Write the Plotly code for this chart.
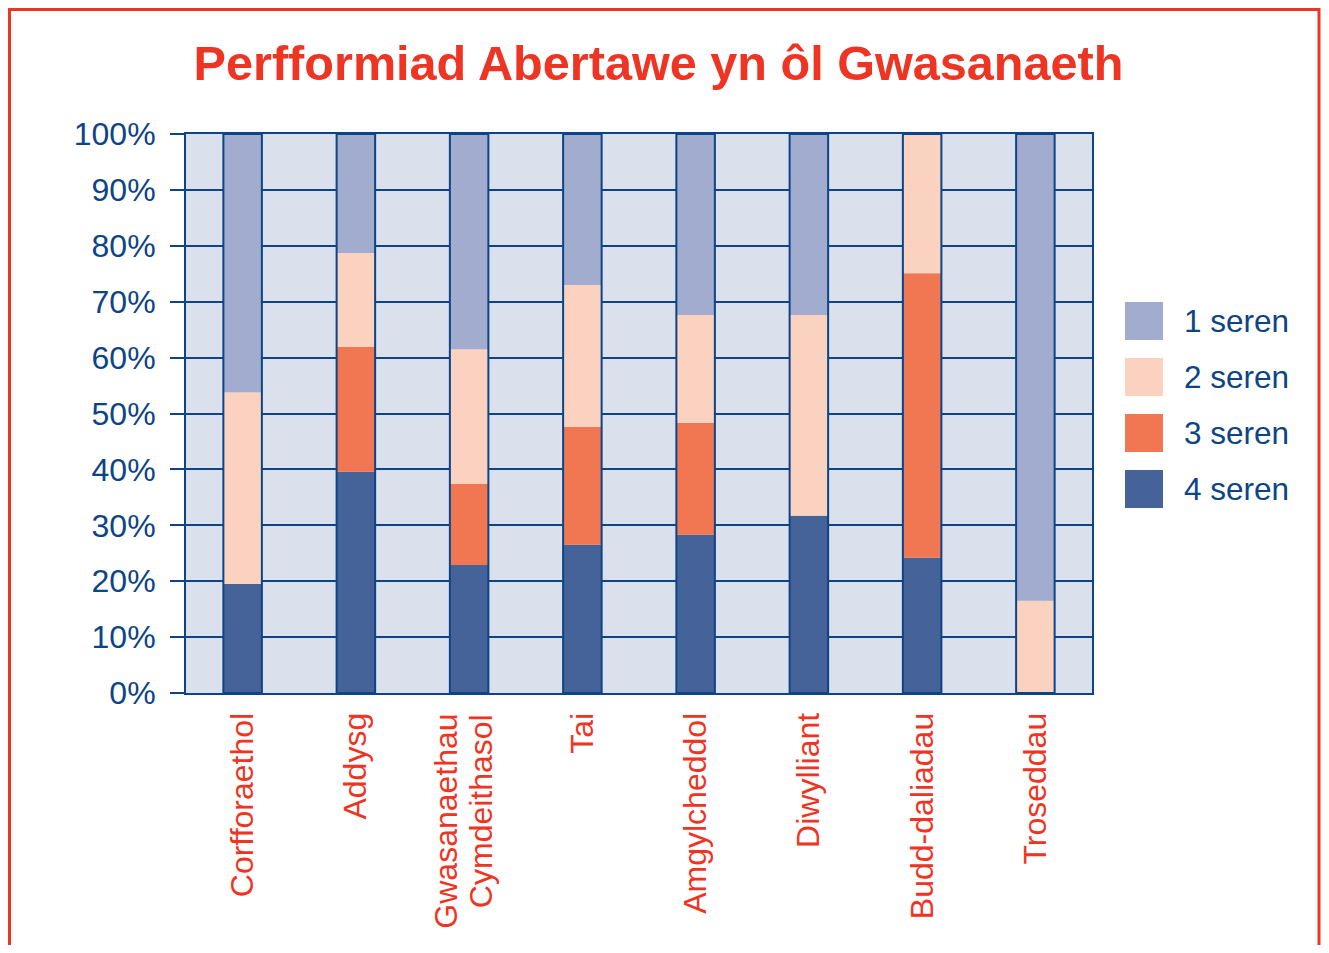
import plotly.graph_objects as go

categories = ["Corfforaethol", "Addysg", "Gwasanaethau<br>Cymdeithasol", "Tai",
              "Amgylcheddol", "Diwylliant", "Budd-daliadau", "Troseddau"]
seren_4 = [19.5, 39.6, 22.9, 26.5, 28.3, 31.7, 24.2, 0.0]
seren_3 = [0.0, 22.3, 14.5, 21.1, 20.0, 0.0, 50.9, 0.0]
seren_2 = [34.3, 16.8, 24.1, 25.4, 19.3, 35.9, 24.9, 16.5]
seren_1 = [46.2, 21.3, 38.5, 27.0, 32.4, 32.4, 0.0, 83.5]
series_names = ["4 seren", "3 seren", "2 seren", "1 seren"]
series_values = [seren_4, seren_3, seren_2, seren_1]
series_colors = ["#456398", "#F07752", "#FBD2C0", "#A1ACCF"]
y_ticks = [0, 10, 20, 30, 40, 50, 60, 70, 80, 90, 100]
y_tick_labels = [f"{v}%" for v in y_ticks]

TITLE = "Perfformiad Abertawe yn ôl Gwasanaeth"
RED = "#EE3524"
NAVY = "#0D4486"
FONT = "Liberation Sans, Arial, Helvetica, sans-serif"

# page has an 8px body margin around the figure; keep the page from overflowing
OFF = 8
W, H = 1329 - 2 * OFF, 953 - 2 * OFF
ML, MT = 186 - OFF, 134 - OFF
PW, PH = 906, 559
MR, MB = W - ML - PW, H - MT - PH

def px_x(p):  # page pixel -> paper x
    return (p - OFF - ML) / PW

def px_y(p):  # page pixel -> paper y
    return (MT + PH - (p - OFF)) / PH

fig = go.Figure()
base = [0.0] * len(categories)
for name, vals, col in zip(series_names, series_values, series_colors):
    fig.add_trace(go.Bar(
        x=categories, y=vals, base=list(base), name=name,
        marker=dict(color=col, line=dict(width=0)),
        width=0.34, showlegend=False,
    ))
    base = [b + v for b, v in zip(base, vals)]

# outline around each full bar
fig.add_trace(go.Bar(
    x=categories, y=base, base=[0] * len(categories),
    marker=dict(color="rgba(0,0,0,0)", line=dict(color=NAVY, width=2)),
    width=0.34, showlegend=False, hoverinfo="skip",
))

shapes = []
annotations = []

# multi-line category labels drawn line by line (tighter line spacing)
tick_text = []
line_shifts = [-23, 12]
for c in categories:
    parts = c.split("<br>")
    if len(parts) == 1:
        tick_text.append(c)
    else:
        tick_text.append("")
        for part, sh in zip(parts, line_shifts):
            annotations.append(dict(xref="x", yref="paper", x=c, y=px_y(712),
                                    xshift=sh, text=part, textangle=-90, showarrow=False,
                                    xanchor="center", yanchor="top",
                                    font=dict(family=FONT, size=32, color=RED)))

# manual legend (1 seren on top)
leg_top = 321
for i, (name, col) in enumerate(zip(series_names[::-1], series_colors[::-1])):
    cy = leg_top + i * 56
    shapes.append(dict(type="rect", xref="paper", yref="paper",
                       x0=px_x(1125), x1=px_x(1163), y0=px_y(cy + 19), y1=px_y(cy - 19),
                       fillcolor=col, line=dict(width=0)))
    annotations.append(dict(xref="paper", yref="paper", x=px_x(1182), y=px_y(cy),
                            text=name, showarrow=False, xanchor="left", yanchor="middle",
                            font=dict(family=FONT, size=31.5, color=NAVY)))

# red frame around the graphic
shapes.append(dict(type="rect", xref="paper", yref="paper", layer="above",
                   x0=px_x(9.5), x1=px_x(OFF + W - 2), y0=px_y(990), y1=px_y(9.5),
                   line=dict(color=RED, width=3), fillcolor="rgba(0,0,0,0)"))

fig.update_layout(
    width=W, height=H,
    margin=dict(l=ML, r=MR, t=MT, b=MB, autoexpand=False),
    barmode="overlay",
    paper_bgcolor="white",
    plot_bgcolor="#DAE0EC",
    showlegend=False,
    title=dict(text=f"<b>{TITLE}</b>", x=(658.5 - OFF) / W, xanchor="center",
               xref="container", y=1 - 55 / H, yanchor="middle",
               font=dict(family=FONT, size=48.6, color=RED)),
    font=dict(family=FONT, color=NAVY),
    xaxis=dict(
        showgrid=False, showline=True, linecolor=NAVY, linewidth=2, mirror=True,
        tickangle=-90, ticks="", ticklabelstandoff=5,
        tickvals=categories, ticktext=tick_text,
        tickfont=dict(family=FONT, size=32, color=RED),
        range=[-0.5, len(categories) - 0.5], fixedrange=True,
    ),
    yaxis=dict(
        range=[0, 100], tickvals=y_ticks, ticktext=y_tick_labels,
        showgrid=True, gridcolor=NAVY, gridwidth=1.5,
        showline=True, linecolor=NAVY, linewidth=2, mirror=True,
        ticks="outside", ticklen=14, tickcolor=NAVY, tickwidth=1.5,
        ticklabelstandoff=8,
        tickfont=dict(family=FONT, size=32, color=NAVY),
        zeroline=False, fixedrange=True,
    ),
    shapes=shapes,
    annotations=annotations,
)

fig.write_html("out.html")
